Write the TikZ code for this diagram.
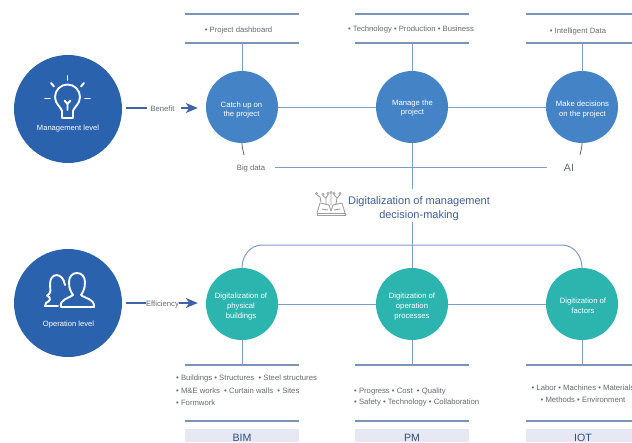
\documentclass[tikz,border=0pt]{standalone}
\usepackage{fontspec}
\setmainfont{Liberation Sans}
\usetikzlibrary{arrows.meta}
\definecolor{navy}{HTML}{2B62AE}
\definecolor{midblue}{HTML}{4484C6}
\definecolor{teal2}{HTML}{2BB5AE}
\definecolor{rulec}{HTML}{7C92B8}
\definecolor{linkc}{HTML}{7C9CCB}
\definecolor{greytxt}{HTML}{666A72}
\definecolor{dark}{HTML}{3F5F96}
\definecolor{arrowc}{HTML}{3F62A8}
\definecolor{band}{HTML}{E6E8F4}
\tikzset{
 bigcirc/.style={circle,fill=navy,minimum size=108pt,inner sep=0pt},
 midcirc/.style={circle,fill=midblue,minimum size=72pt,inner sep=0pt},
 tealcirc/.style={midcirc,fill=teal2},
 ctext/.style={text=white,font=\fontsize{7.7}{9.6}\selectfont,align=center,inner sep=0pt},
 lab/.style={font=\fontsize{7.7}{10}\selectfont,text=greytxt,inner sep=0pt},
 listl/.style={lab,align=left},
 whitelab/.style={font=\fontsize{7.6}{9}\selectfont,text=white,inner sep=0pt},
 rulel/.style={draw=rulec,line width=1.1pt},
 link/.style={draw=linkc,line width=1pt},
 flow/.style={draw=arrowc,line width=1.8pt},
 flowhead/.style={flow,-{Stealth[length=12pt,width=10pt,inset=3.5pt]}},
 thinlink/.style={draw=dark!70!gray,line width=.8pt},
 icon/.style={draw=white,line width=1.9pt,line cap=round,line join=round},
 bookic/.style={draw=gray!75,line width=.9pt,line join=round},
 bandbox/.style={fill=band,minimum width=114pt,minimum height=13pt,inner sep=0pt,text=dark!80!black,font=\fontsize{10.6}{12}\selectfont,text height=11pt,text depth=0pt},
}
\begin{document}
\begin{tikzpicture}[x=1pt,y=-1pt]
\useasboundingbox (0,0) rectangle (632,442);
\begin{scope}
\clip (0,0) rectangle (632,442);
% rules
\foreach \n/\x in {a/185,b/355,c/526}{
 \coordinate (t\n1) at (\x,14); \coordinate (t\n2) at (\x+114,14);
 \coordinate (m\n1) at (\x,43); \coordinate (m\n2) at (\x+114,43);
 \coordinate (u\n1) at (\x,365); \coordinate (u\n2) at (\x+114,365);
 \coordinate (v\n1) at (\x,421); \coordinate (v\n2) at (\x+114,421);
 \draw[rulel] (t\n1)--(t\n2); \draw[rulel] (m\n1)--(m\n2);
 \draw[rulel] (u\n1)--(u\n2); \draw[rulel] (v\n1)--(v\n2);
}
% nodes
\node[bigcirc] (mgmt) at (68,109) {};
\node[bigcirc] (oper) at (68,303) {};
\node[midcirc] (catch) at (242,107) {};
\node[midcirc] (manage) at (412,107) {};
\node[midcirc] (decide) at (582,107) {};
\node[tealcirc] (phys) at (242,304) {};
\node[tealcirc] (proc) at (412,304) {};
\node[tealcirc] (fact) at (582,304) {};
\node[ctext] (catchT) at (241.5,110) {Catch up on\\the project};
\node[ctext] (manageT) at (412.5,108) {Manage the\\project};
\node[ctext] (decideT) at (582.5,109.5) {Make decisions\\on the project};
\node[ctext] (physT) at (241,306.6) {Digitalization of\\physical\\buildings};
\node[ctext] (procT) at (412,306.6) {Digitization of\\operation\\processes};
\node[ctext] (factT) at (583,305.5) {Digitization of\\factors};
\node[whitelab] (ml) at (68,129) {Management level};
\node[whitelab] (ol) at (68.5,325) {Operation level};
\node[lab] (dash) at (238.5,30.5) {• Project dashboard};
\node[lab] (tech) at (411,30) {• Technology • Production • Business};
\node[lab] (intel) at (578,31.5) {• Intelligent Data};
\node[lab,inner sep=3pt] (benefit) at (162.5,109) {Benefit};
\node[lab] (effic) at (162.5,304.5) {Efficiency};
\node[lab,inner sep=1pt] (big) at (251,169) {Big data};
\node[font=\fontsize{10.6}{12}\selectfont,text=greytxt,inner sep=0pt] (ai) at (569,167.5) {AI};
\node[font=\fontsize{11}{14}\selectfont,text=dark,align=center,inner sep=0pt] (digi) at (419,209) {Digitalization of management\\decision-making};
\node[listl,anchor=north west,font=\fontsize{7.7}{12.5}\selectfont] (l1) at (176,375) {• Buildings • Structures \ • Steel structures\\• M\&E works \ • Curtain walls \ • Sites\\• Formwork};
\node[listl,anchor=north west,font=\fontsize{7.7}{10.8}\selectfont] (l2) at (354,388) {• Progress • Cost \ • Quality\\• Safety • Technology • Collaboration};
\node[lab,align=center,anchor=north,font=\fontsize{7.7}{11.6}\selectfont] (l3) at (583,385) {• Labor • Machines • Materials\\• Methods • Environment};
\node[bandbox] (bim) at (242,435.5) {BIM};
\node[bandbox] (pm) at (412,435.5) {PM};
\node[bandbox] (iot) at (583,435.5) {IOT};
% connectors
\draw[link] (catch)--(manage);
\draw[link] (manage)--(decide);
\draw[link] (phys)--(proc);
\draw[link] (proc)--(fact);
\draw[link] (catch.north)--(catch.north |- ma1);
\draw[link] (manage.north)--(manage.north |- mb1);
\draw[link] (decide.north)--(decide.north |- mc1);
\draw[link] (phys.south)--(phys.south |- ua1);
\draw[link] (proc.south)--(proc.south |- ub1);
\draw[link] (fact.south)--(fact.south |- uc1);
\coordinate (vtop) at (412,189);
\coordinate (vbot) at (412,222);
\draw[link] (manage.south)--(vtop);
\draw[link] (vbot)--(proc.north);
\draw[link] (phys.north) to[out=90,in=180] (262,245) -- (562,245) to[out=0,in=90] (fact.north);
\coordinate (bl) at (275,167);
\coordinate (br) at (547,167);
\draw[link] (bl) -- (br);
\coordinate (bc) at (244,155);
\coordinate (ac) at (580,155);
\draw[thinlink] (catch.south) to[out=-90,in=100] (bc);
\draw[thinlink] (decide.south) to[out=-90,in=80] (ac);
% flows
\coordinate (f1) at (126,108);
\coordinate (f2) at (126,303);
\draw[flow] (f1) -- (benefit.west |- f1);
\draw[flow] (f2) -- (effic.west |- f2);
\draw[flowhead,shorten <=3pt,shorten >=8pt] (benefit.east |- f1) -- (catch.west |- f1);
\draw[flowhead,shorten >=8pt] (effic.east |- f2) -- (phys.west |- f2);
% bulb
\draw[icon] (62,118) -- (62,111) .. controls (61,107) and (55,104) .. (55,97)
  arc[start angle=180,end angle=360,radius=12.5] .. controls (80,104) and (74,107) .. (73,111) -- (73,118) -- cycle;
\draw[icon] (67.5,110) -- (67.5,104) (64.5,100.5) -- (67.5,104) -- (70.5,100.5);
\draw[icon] (67.5,76) -- (67.5,80);
\draw[icon] (51,83) -- (54,86.5) (84,83) -- (81,86.5);
\draw[icon] (45,98.5) -- (50,98.5) (85,98.5) -- (90,98.5);
% people
\draw[icon] (61,307) .. controls (59,299) and (70,298) .. (73,295)
  .. controls (71,292) and (69,289) .. (69,282)
  .. controls (69,270) and (85,270) .. (85,282)
  .. controls (85,289) and (83,292) .. (81,295)
  .. controls (84,298) and (95,299) .. (94,307) -- cycle;
\draw[icon] (65,285) .. controls (63,272) and (50,272) .. (50,284)
  .. controls (50,290) and (52,293) .. (47,295.5)
  .. controls (52,298) and (50,301) .. (46,303) -- (45,306) -- (58,306);
% book icon
\draw[bookic] (317,213) -- (345,213) -- (345,215.5) -- (317,215.5) -- cycle;
\draw[bookic] (317,213) -- (320,203) -- (329,205) -- (331,211) -- (333,205) -- (342,203) -- (345,213);
\draw[bookic] (322,209) -- (328,210) (334,210) -- (340,209);
\draw[bookic] (331,205) -- (331,194) (326,204) -- (326,198) -- (323,196) (326,198) -- (328,195)
  (336,204) -- (337,198) -- (334,195) (337,198) -- (340,195) (321,202) -- (320,197) -- (317,195);
\foreach \p in {(331,192.5),(323,194.5),(328,193.5),(334,193.5),(340,193.5),(316.5,193.5)}
  \draw[bookic,line width=.7pt] \p circle[radius=1.1];
\end{scope}
\end{tikzpicture}
\end{document}
